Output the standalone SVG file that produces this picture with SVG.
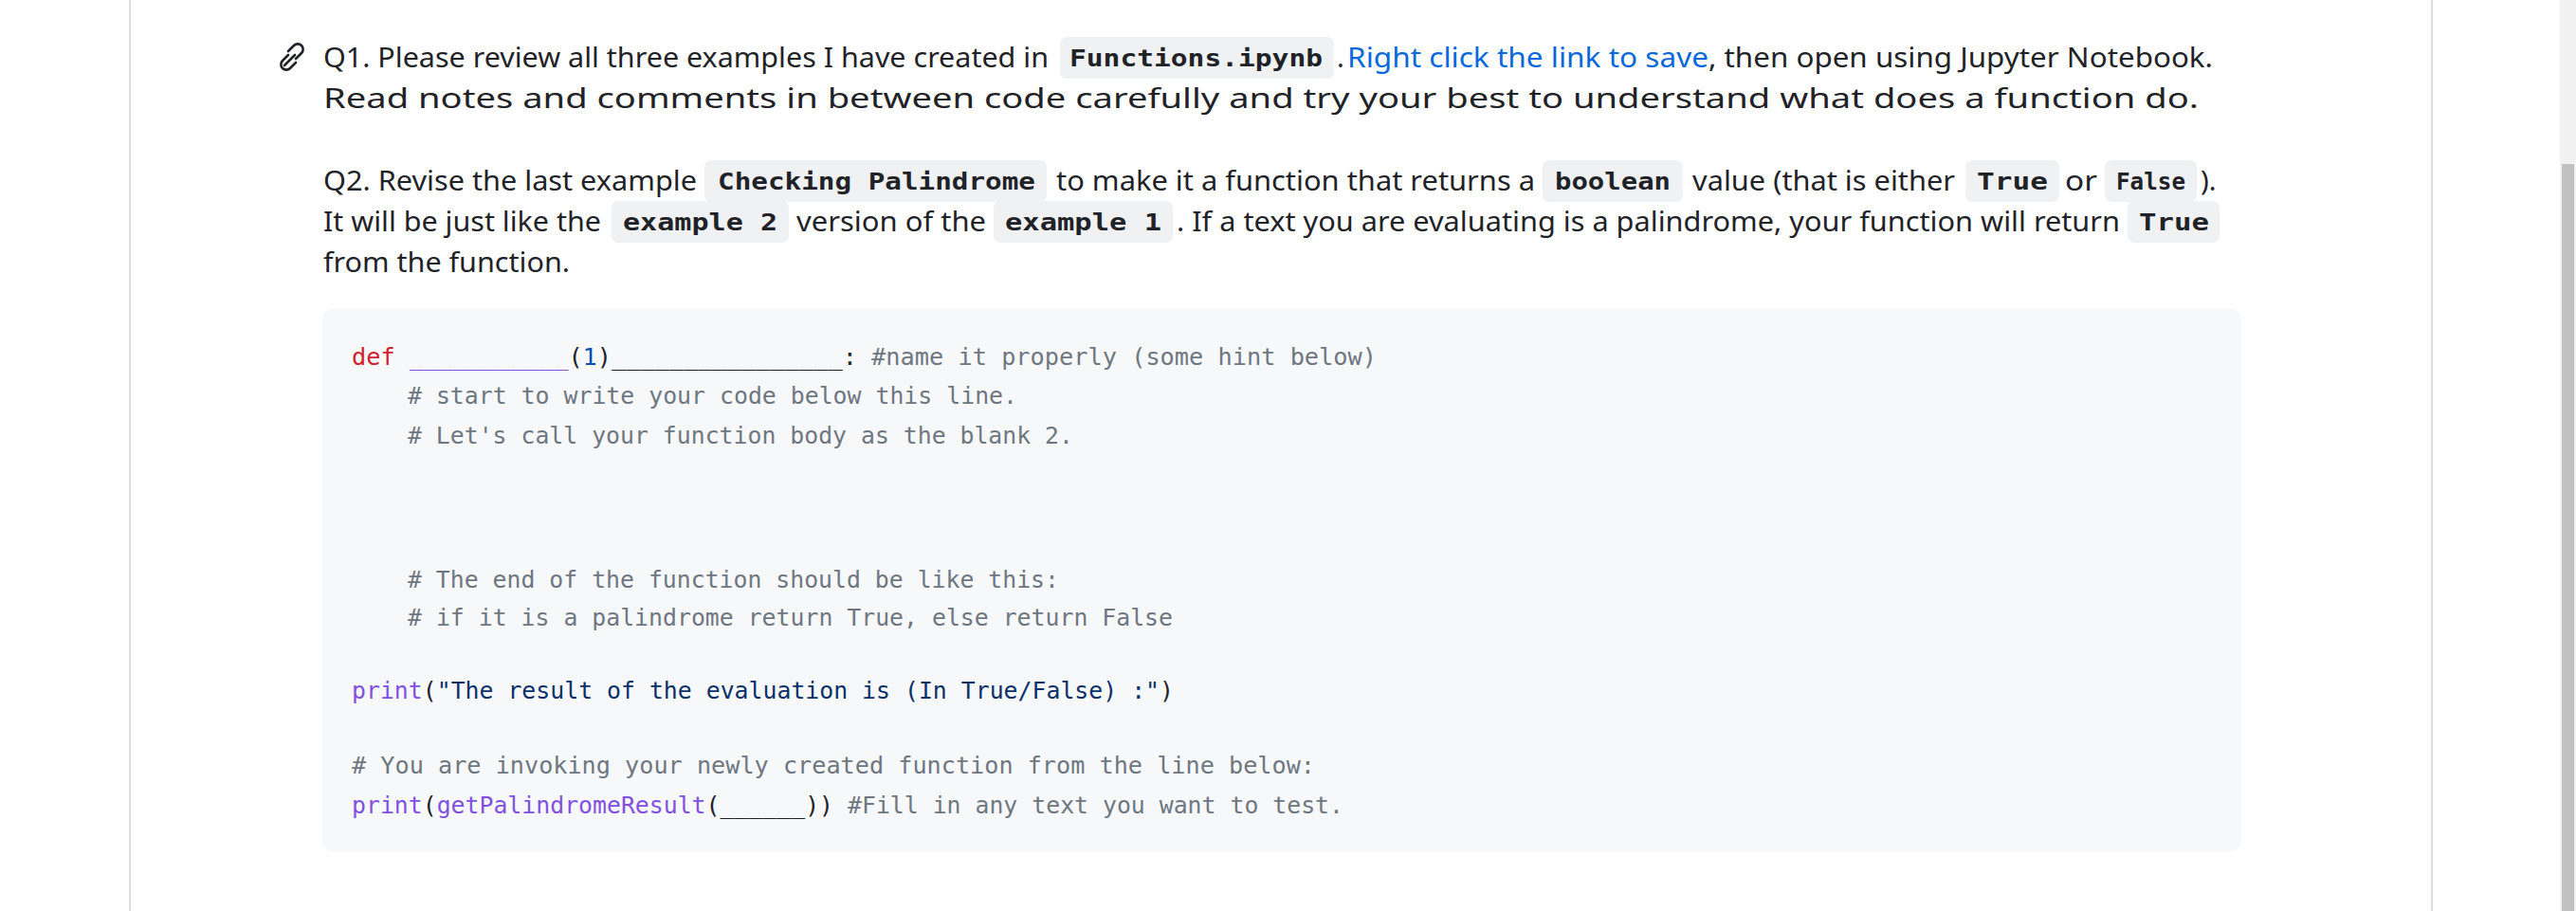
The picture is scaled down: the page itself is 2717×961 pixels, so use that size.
<svg xmlns="http://www.w3.org/2000/svg" width="2717" height="961" viewBox="0 0 2717 961">
<style>
.t{font-family:"Noto Sans","Open Sans","Liberation Sans",sans-serif;font-size:29px;fill:#1f2328}
.lk{fill:#0969da}
.ic{font-family:"DejaVu Sans Mono","Liberation Mono",monospace;font-size:25px;font-weight:bold;fill:#1f2328}
.cb{fill:#eff1f3}
.c{font-family:"DejaVu Sans Mono","Liberation Mono",monospace;font-size:24px;fill:#1f2328}
.cm{fill:#6e7781}.kw{fill:#cf222e}.fn{fill:#8250df}.nm{fill:#0550ae}.st{fill:#0a3069}
</style>
<rect width="2717" height="961" fill="#fff"/>
<line x1="137" y1="0" x2="137" y2="961" stroke="#d8dee4" stroke-width="2"/>
<line x1="2565" y1="0" x2="2565" y2="961" stroke="#d8dee4" stroke-width="2"/>
<rect x="2700" y="0" width="17" height="961" fill="#f1f1f1"/>
<rect x="2702" y="173" width="13" height="788" fill="#c1c1c1"/>
<g id="link-icon" fill="none" stroke="#1f2328" stroke-width="2.6" stroke-linecap="round">
<path d="M304 58 l-6 6 a5.5 5.5 0 0 0 8 8 l6 -6"/>
<path d="M306 64 l6 -6 a5.5 5.5 0 0 0 -8 -8 l-6 6" transform="translate(6 -2)"/>
<line x1="300" y1="69" x2="311" y2="58"/>
</g>
<g id="q1">
<text class="t" x="341" y="71" textLength="765" lengthAdjust="spacingAndGlyphs">Q1. Please review all three examples I have created in</text>
<rect class="cb" x="1118" y="39" width="289" height="44" rx="7"/>
<text class="ic" x="1128" y="70" textLength="267" lengthAdjust="spacingAndGlyphs">Functions.ipynb</text>
<text class="t" x="1410" y="71">.</text>
<text class="t lk" x="1421" y="71" textLength="381" lengthAdjust="spacingAndGlyphs">Right click the link to save</text>
<text class="t" x="1802" y="71" textLength="532" lengthAdjust="spacingAndGlyphs">, then open using Jupyter Notebook.</text>
<text class="t" x="341" y="114" textLength="1978" lengthAdjust="spacingAndGlyphs">Read notes and comments in between code carefully and try your best to understand what does a function do.</text>
</g>
<g id="q2">
<text class="t" x="341" y="201" textLength="394" lengthAdjust="spacingAndGlyphs">Q2. Revise the last example</text>
<rect class="cb" x="743" y="169" width="361" height="44" rx="7"/>
<text class="ic" x="757" y="200" textLength="335" lengthAdjust="spacingAndGlyphs">Checking Palindrome</text>
<text class="t" x="1114" y="201" textLength="505" lengthAdjust="spacingAndGlyphs">to make it a function that returns a</text>
<rect class="cb" x="1627" y="169" width="148" height="44" rx="7"/>
<text class="ic" x="1640" y="200" textLength="122" lengthAdjust="spacingAndGlyphs">boolean</text>
<text class="t" x="1785" y="201" textLength="277" lengthAdjust="spacingAndGlyphs">value (that is either</text>
<rect class="cb" x="2073" y="169" width="99" height="44" rx="7"/>
<text class="ic" x="2085" y="200" textLength="75" lengthAdjust="spacingAndGlyphs">True</text>
<text class="t" x="2178" y="201" textLength="34" lengthAdjust="spacingAndGlyphs">or</text>
<rect class="cb" x="2220" y="169" width="97" height="44" rx="7"/>
<text class="ic" x="2232" y="200" textLength="73" lengthAdjust="spacingAndGlyphs">False</text>
<text class="t" x="2321" y="201">).</text>
<text class="t" x="341" y="244" textLength="293" lengthAdjust="spacingAndGlyphs">It will be just like the</text>
<rect class="cb" x="645" y="212" width="187" height="44" rx="7"/>
<text class="ic" x="657" y="243" textLength="163" lengthAdjust="spacingAndGlyphs">example 2</text>
<text class="t" x="840" y="244" textLength="200" lengthAdjust="spacingAndGlyphs">version of the</text>
<rect class="cb" x="1048" y="212" width="189" height="44" rx="7"/>
<text class="ic" x="1060" y="243" textLength="165" lengthAdjust="spacingAndGlyphs">example 1</text>
<text class="t" x="1241" y="244" textLength="995" lengthAdjust="spacingAndGlyphs">. If a text you are evaluating is a palindrome, your function will return</text>
<rect class="cb" x="2244" y="212" width="97" height="44" rx="7"/>
<text class="ic" x="2256" y="243" textLength="74" lengthAdjust="spacingAndGlyphs">True</text>
<text class="t" x="341" y="287" textLength="260" lengthAdjust="spacingAndGlyphs">from the function.</text>
</g>
<g id="code" xml:space="preserve">
<rect x="340" y="326" width="2024" height="572" rx="10" fill="#f6f8fa"/>
<text class="c" x="371" y="385" textLength="1081" lengthAdjust="spacingAndGlyphs"><tspan class="kw">def</tspan> <tspan class="fn">___________</tspan>(<tspan class="nm">1</tspan>)________________:  <tspan class="cm">#name it properly (some hint below)</tspan></text>
<text class="c cm" x="430" y="426" textLength="643" lengthAdjust="spacingAndGlyphs"># start to write your code below this line.</text>
<text class="c cm" x="430" y="468" textLength="702" lengthAdjust="spacingAndGlyphs"># Let's call your function body as the blank 2.</text>
<text class="c cm" x="430" y="620" textLength="687" lengthAdjust="spacingAndGlyphs"># The end of the function should be like this:</text>
<text class="c cm" x="430" y="660" textLength="807" lengthAdjust="spacingAndGlyphs"># if it is a palindrome return True, else return False</text>
<text class="c" x="371" y="737" textLength="867" lengthAdjust="spacingAndGlyphs"><tspan class="fn">print</tspan>(<tspan class="st">"The result of the evaluation is (In True/False) :"</tspan>)</text>
<text class="c cm" x="371" y="816" textLength="1016" lengthAdjust="spacingAndGlyphs"># You are invoking your newly created function from the line below:</text>
<text class="c" x="371" y="858" textLength="1046" lengthAdjust="spacingAndGlyphs"><tspan class="fn">print</tspan>(<tspan class="fn">getPalindromeResult</tspan>(______)) <tspan class="cm">#Fill in any text you want to test.</tspan></text>
</g>
</svg>
